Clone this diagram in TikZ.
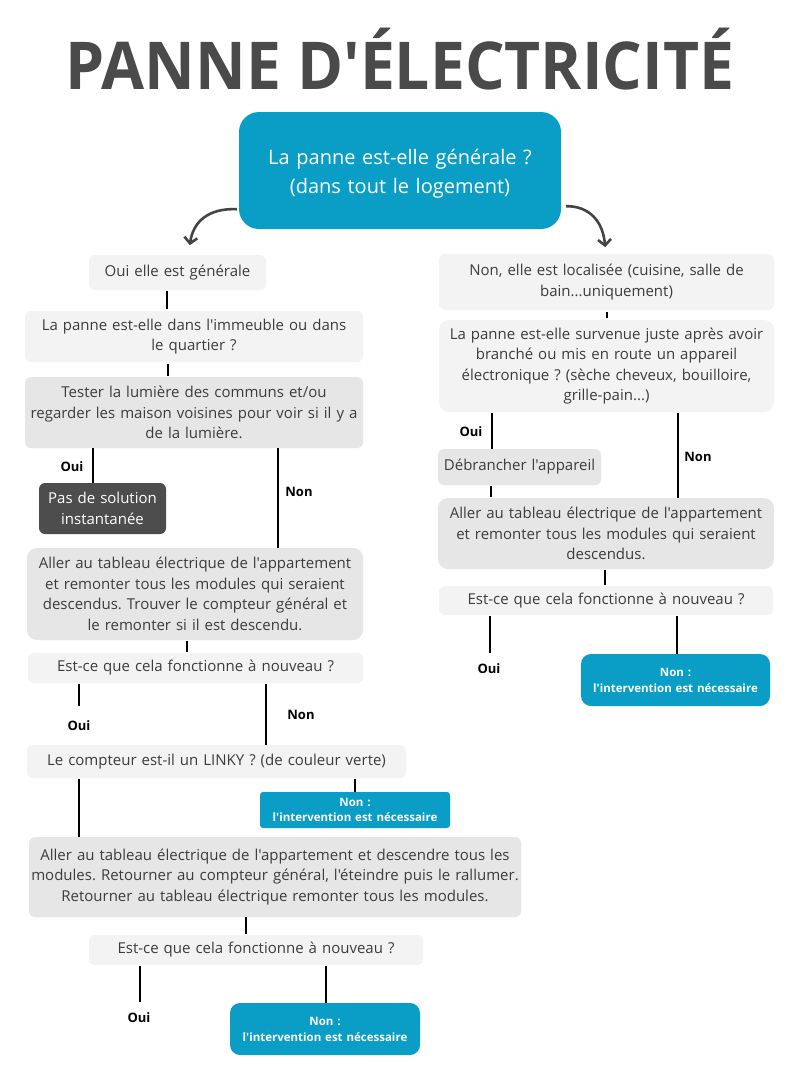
\documentclass[tikz,border=0pt]{standalone}
\usepackage{fontspec}
\setmainfont{Open Sans}[Ligatures=TeXOff]
\frenchspacing
\usetikzlibrary{arrows.meta}
\definecolor{blu}{HTML}{0A9EC7}
\definecolor{lgr}{HTML}{F3F3F3}
\definecolor{mgr}{HTML}{E6E6E6}
\definecolor{dgr}{HTML}{4D4D4D}
\definecolor{txt}{HTML}{3C3C3C}
\definecolor{ttl}{HTML}{4A4A4A}
\definecolor{arr}{HTML}{444444}
\tikzset{
  box/.style={rounded corners=6pt, inner sep=0pt, align=center, text=txt,
    font=\fontsize{15}{20.5}\selectfont},
  lbox/.style={box, fill=lgr},
  mbox/.style={box, fill=mgr},
  dbox/.style={box, fill=dgr, text=white},
  bbox/.style={rounded corners=10pt, inner sep=0pt, align=center, fill=blu, text=white,
    font=\bfseries\fontsize{11.5}{16}\selectfont},
  lab/.style={font=\bfseries\fontsize{13}{15}\selectfont, text=black, inner sep=0pt},
  conn/.style={line width=2pt, draw=black},
  carrow/.style={line width=2.6pt, draw=arr, -{Straight Barb[length=6pt,width=13pt,line width=2.6pt]}},
}
\begin{document}
\begin{tikzpicture}[x=1pt,y=-1pt]
\useasboundingbox (0,0) rectangle (800,1066);
\fill[white] (0,0) rectangle (800,1066);
% title
\node[font=\bfseries\fontsize{66}{70}\selectfont, text=ttl, inner sep=0pt] (title) at (400,59) {\scalebox{0.945}[1]{PANNE D'ÉLECTRICITÉ}};
% top
\node[bbox, rounded corners=20pt, minimum width=322pt, minimum height=117pt, text width=322pt,
  font=\fontsize{20}{29}\selectfont] (top) at (400,170.5) {\rule{0pt}{22pt}La panne est-elle générale ?\\(dans tout le logement)};
% left column
\node[lbox, minimum width=177pt, minimum height=35pt, text width=177pt] (n1) at (177.5,272.5) {Oui elle est générale};
\node[lbox, minimum width=338pt, minimum height=51pt, text width=338pt] (n2) at (194,336.5) {La panne est-elle dans l'immeuble ou dans\\le quartier ?};
\node[mbox, minimum width=338pt, minimum height=71pt, text width=338pt] (n3) at (194,412.5) {Tester la lumière des communs et/ou\\regarder les maison voisines pour voir si il y a\\de la lumière.};
\node[dbox, minimum width=127pt, minimum height=51pt, text width=127pt] (pas) at (102.5,508.5) {Pas de solution\\instantanée};
\node[mbox, rounded corners=10pt, minimum width=336pt, minimum height=92pt, text width=336pt] (n4) at (195,594) {Aller au tableau électrique de l'appartement\\et remonter tous les modules qui seraient\\descendus. Trouver le compteur général et\\le remonter si il est descendu.};
\node[lbox, minimum width=335pt, minimum height=30pt, text width=335pt] (n5) at (195.5,668) {Est-ce que cela fonctionne à nouveau ?};
\node[lbox, minimum width=379pt, minimum height=33pt, text width=379pt] (n6) at (216.5,761.5) {Le compteur est-il un LINKY ? (de couleur verte)};
\node[bbox, rounded corners=3pt, minimum width=190pt, minimum height=36pt, text width=190pt,
  font=\bfseries\fontsize{11.5}{15}\selectfont] (b1) at (355,810) {Non :\\l'intervention est nécessaire};
\node[mbox, minimum width=492pt, minimum height=80pt, text width=492pt] (n7) at (275,877) {Aller au tableau électrique de l'appartement et descendre tous les\\modules. Retourner au compteur général, l'éteindre puis le rallumer.\\Retourner au tableau électrique remonter tous les modules.};
\node[lbox, minimum width=334pt, minimum height=30pt, text width=334pt] (n8) at (256,950) {Est-ce que cela fonctionne à nouveau ?};
\node[bbox, minimum width=190pt, minimum height=52pt, text width=190pt] (b2) at (325,1029) {Non :\\l'intervention est nécessaire};
% right column
\node[lbox, minimum width=335pt, minimum height=56pt, text width=335pt] (r1) at (606.5,282) {Non, elle est localisée (cuisine, salle de\\bain...uniquement)};
\node[lbox, rounded corners=10pt, minimum width=335pt, minimum height=92pt, text width=335pt] (r2) at (606.5,366) {La panne est-elle survenue juste après avoir\\branché ou mis en route un appareil\\électronique ? (sèche cheveux, bouilloire,\\grille-pain...)};
\node[mbox, minimum width=163pt, minimum height=36pt, text width=163pt] (deb) at (519.5,467) {Débrancher l'appareil};
\node[mbox, rounded corners=10pt, minimum width=336pt, minimum height=71pt, text width=336pt] (r3) at (606,533.5) {Aller au tableau électrique de l'appartement\\et remonter tous les modules qui seraient\\descendus.};
\node[lbox, minimum width=334pt, minimum height=29pt, text width=334pt] (r4) at (606,600.5) {Est-ce que cela fonctionne à nouveau ?};
\node[bbox, minimum width=189pt, minimum height=52pt, text width=189pt] (b3) at (675.5,680) {Non :\\l'intervention est nécessaire};
% labels
\node[lab] (o1) at (72,467) {Oui};
\node[lab] (no1) at (299,492) {Non};
\node[lab] (o2) at (79,726) {Oui};
\node[lab] (no2) at (301,715) {Non};
\node[lab] (o3) at (139,1018) {Oui};
\node[lab] (o4) at (471,432) {Oui};
\node[lab] (no4) at (698,457) {Non};
\node[lab] (o5) at (489,669) {Oui};
% x positions of connectors
\coordinate (x167) at (167,0);
\coordinate (x168) at (168,0);
\coordinate (x93) at (93,0);
\coordinate (x278) at (278,0);
\coordinate (x187) at (187,0);
\coordinate (x79) at (79,0);
\coordinate (x266) at (266,0);
\coordinate (x355) at (355,0);
\coordinate (x246) at (246,0);
\coordinate (x140) at (140,0);
\coordinate (x326) at (326,0);
\coordinate (x607) at (607,0);
\coordinate (x492) at (492,0);
\coordinate (x491) at (491,0);
\coordinate (x678) at (678,0);
\coordinate (x605) at (605,0);
\coordinate (x490) at (490,0);
\coordinate (x677) at (677,0);
\coordinate (e1) at (79,706);
\coordinate (e2) at (140,1002);
\coordinate (e3) at (490,653);
% connectors
\draw[conn] ([yshift=-1pt]n1.south -| x167) -- ([yshift=2pt]n2.north -| x167);
\draw[conn] ([yshift=-2pt]n2.south -| x168) -- ([yshift=1pt]n3.north -| x168);
\draw[conn] (n3.south -| x93) -- (pas.north -| x93);
\draw[conn] (n3.south -| x278) -- (n4.north -| x278);
\draw[conn] ([yshift=-1pt]n4.south -| x187) -- ([yshift=1pt]n5.north -| x187);
\draw[conn] ([yshift=-1pt]n5.south -| x79) -- (e1);
\draw[conn] ([yshift=-1pt]n5.south -| x266) -- (n6.north -| x266);
\draw[conn] ([yshift=-1pt]n6.south -| x79) -- (n7.north -| x79);
\draw[conn] ([yshift=-1pt]n6.south -| x355) -- (b1.north -| x355);
\draw[conn] (n7.south -| x246) -- ([yshift=1pt]n8.north -| x246);
\draw[conn] ([yshift=-1pt]n8.south -| x140) -- (e2);
\draw[conn] ([yshift=-1pt]n8.south -| x326) -- (b2.north -| x326);
\draw[conn] ([yshift=-2pt]r1.south -| x607) -- ([yshift=2pt]r2.north -| x607);
\draw[conn] ([yshift=-1pt]r2.south -| x492) -- (deb.north -| x492);
\draw[conn] ([yshift=-1pt]deb.south -| x491) -- ([yshift=1pt]r3.north -| x491);
\draw[conn] ([yshift=-1pt]r2.south -| x678) -- (r3.north -| x678);
\draw[conn] ([yshift=-1pt]r3.south -| x605) -- ([yshift=1pt]r4.north -| x605);
\draw[conn] ([yshift=-1pt]r4.south -| x490) -- (e3);
\draw[conn] ([yshift=-1pt]r4.south -| x677) -- (b3.north -| x677);
% curved arrows
\draw[carrow] ([xshift=-2pt,yshift=20pt]top.south west) .. controls (208,208) and (193,222) .. ([xshift=-49pt,yshift=-16pt]top.south west);
\draw[carrow] ([xshift=5pt,yshift=23pt]top.south east) .. controls (590,206) and (603,222) .. ([xshift=44pt,yshift=-18pt]top.south east);
\end{tikzpicture}
\end{document}
